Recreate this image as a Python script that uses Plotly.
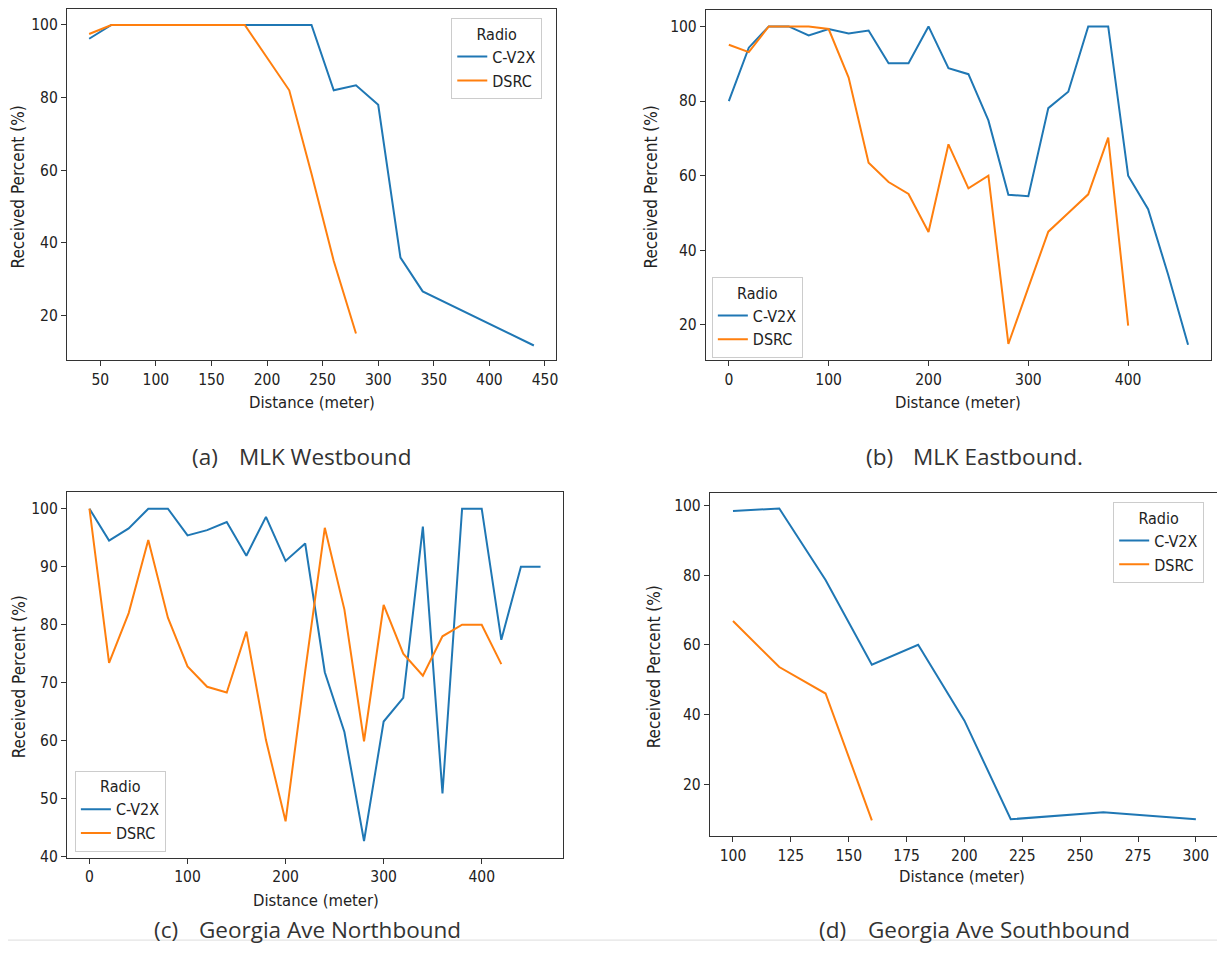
import plotly.graph_objects as go

# ---------------- data ----------------
# (a) MLK Westbound
a_cv2x_x = [40, 60, 80, 100, 120, 140, 160, 180, 200, 220, 240, 260, 280, 300, 320, 340, 440]
a_cv2x_y = [96.2, 100, 100, 100, 100, 100, 100, 100, 100, 100, 100, 82.0, 83.4, 78.0, 35.9, 26.6, 11.7]
a_dsrc_x = [40, 60, 80, 100, 120, 140, 160, 180, 220, 240, 260, 280]
a_dsrc_y = [97.5, 100, 100, 100, 100, 100, 100, 100, 82.0, 59.0, 35.0, 15.0]

# (b) MLK Eastbound
b_cv2x_x = [0, 20, 40, 60, 80, 100, 120, 140, 160, 180, 200, 220, 240, 260, 280, 300,
            320, 340, 360, 380, 400, 420, 440, 460]
b_cv2x_y = [80.0, 94.3, 100, 100, 97.6, 99.3, 98.1, 98.9, 90.1, 90.1, 100, 88.8, 87.2, 74.8,
            54.9, 54.5, 78.1, 82.5, 100, 100, 60.0, 51.0, 33.5, 14.7]
b_dsrc_x = [0, 20, 40, 60, 80, 100, 120, 140, 160, 180, 200, 220, 240, 260, 280, 300,
            320, 340, 360, 380, 400]
b_dsrc_y = [95.1, 93.1, 100, 100, 100, 99.3, 86.3, 63.5, 58.3, 55.1, 44.9, 68.4, 56.6, 60.0,
            14.9, 30.0, 45.0, 50.0, 55.0, 70.2, 19.8]

# (c) Georgia Ave Northbound
c_cv2x_x = [0, 20, 40, 60, 80, 100, 120, 140, 160, 180, 200, 220, 240, 260, 280, 300,
            320, 340, 360, 380, 400, 420, 440, 460]
c_cv2x_y = [100, 94.5, 96.6, 100, 100, 95.4, 96.3, 97.7, 91.9, 98.6, 91.0, 94.0, 71.8, 61.5,
            42.7, 63.3, 67.4, 96.9, 50.9, 100, 100, 77.4, 90.0, 90.0]
c_dsrc_x = [0, 20, 40, 60, 80, 100, 120, 140, 160, 180, 200, 220, 240, 260, 280, 300,
            320, 340, 360, 380, 400, 420]
c_dsrc_y = [100, 73.4, 82.0, 94.6, 81.2, 72.8, 69.3, 68.3, 78.8, 60.1, 46.1, 72.0, 96.7, 82.6,
            59.9, 83.4, 75.0, 71.2, 78.0, 80.0, 80.0, 73.2]

# (d) Georgia Ave Southbound
d_cv2x_x = [100, 120, 140, 160, 180, 200, 220, 260, 300]
d_cv2x_y = [98.4, 99.1, 78.6, 54.3, 60.0, 38.2, 9.9, 11.9, 9.9]
d_dsrc_x = [100, 120, 140, 160]
d_dsrc_y = [66.8, 53.6, 46.0, 9.6]

series_names = ["C-V2X", "DSRC"]
legend_title = "Radio"
x_title = "Distance (meter)"
y_title = "Received Percent (%)"
caption_labels = ["(a)", "(b)", "(c)", "(d)"]
caption_names = ["MLK Westbound", "MLK Eastbound.", "Georgia Ave Northbound", "Georgia Ave Southbound"]

a_xticks = [50, 100, 150, 200, 250, 300, 350, 400, 450]
a_yticks = [20, 40, 60, 80, 100]
b_xticks = [0, 100, 200, 300, 400]
b_yticks = [20, 40, 60, 80, 100]
c_xticks = [0, 100, 200, 300, 400]
c_yticks = [40, 50, 60, 70, 80, 90, 100]
d_xticks = [100, 125, 150, 175, 200, 225, 250, 275, 300]
d_yticks = [20, 40, 60, 80, 100]

# ---------------- layout helpers ----------------
W, H = 1225, 953
OFF = 8  # page body margin
BLUE, ORANGE = "#1f77b4", "#ff7f0e"
TICKFONT = "DejaVu Sans Condensed, DejaVu Sans, sans-serif"
CAPFONT = "Open Sans, Noto Sans, sans-serif"


def px_x(p):
    return (p - OFF) / W


def px_y(p):
    return 1 - (p - OFF) / H


panels = [
    dict(box=(67, 557, 9, 363), xr=[20, 460], yr=[7.7, 104.4], xt=a_xticks, yt=a_yticks,
         data=(a_cv2x_x, a_cv2x_y, a_dsrc_x, a_dsrc_y), leg=(452, 18),
         xtitle=(312, 406), ytitle=(19, 188), cap=(190, 237, 460)),
    dict(box=(707, 1213, 10, 363), xr=[-23, 483], yr=[10.6, 104.4], xt=b_xticks, yt=b_yticks,
         data=(b_cv2x_x, b_cv2x_y, b_dsrc_x, b_dsrc_y), leg=(713, 279),
         xtitle=(960, 406), ytitle=(653, 188), cap=(865, 912, 460)),
    dict(box=(67, 564, 496, 865), xr=[-23, 483], yr=[39.8, 102.9], xt=c_xticks, yt=c_yticks,
         data=(c_cv2x_x, c_cv2x_y, c_dsrc_x, c_dsrc_y), leg=(75, 777),
         xtitle=(317, 908), ytitle=(19, 682), cap=(152, 197, 937)),
    dict(box=(711, 1221, 497, 843), xr=[90, 310], yr=[5.1, 103.6], xt=d_xticks, yt=d_yticks,
         data=(d_cv2x_x, d_cv2x_y, d_dsrc_x, d_dsrc_y), leg=(1115, 506),
         xtitle=(964, 884), ytitle=(655, 672), cap=(818, 867, 937)),
]

fig = go.Figure()
layout = dict(
    width=W, height=H, autosize=False,
    margin=dict(l=0, r=0, t=0, b=0),
    paper_bgcolor="white", plot_bgcolor="white",
    font=dict(family=TICKFONT, size=15, color="#222"),
    annotations=[], shapes=[],
)

for i, p in enumerate(panels):
    n = "" if i == 0 else str(i + 1)
    xa, ya = "x" + n, "y" + n
    legname = "legend" + n
    l, r, t, b = p["box"]
    cx, cy, dx, dy = p["data"]
    fig.add_trace(go.Scatter(x=cx, y=cy, mode="lines", name=series_names[0],
                             line=dict(color=BLUE, width=2), xaxis=xa, yaxis=ya,
                             legend=legname))
    fig.add_trace(go.Scatter(x=dx, y=dy, mode="lines", name=series_names[1],
                             line=dict(color=ORANGE, width=2), xaxis=xa, yaxis=ya,
                             legend=legname))
    axcommon = dict(showgrid=False, zeroline=False, showline=True, mirror=True,
                    linecolor="#333", linewidth=1, ticks="outside", ticklen=5,
                    tickwidth=1, tickcolor="#333",
                    tickfont=dict(family=TICKFONT, size=15.5, color="#222"))
    layout["xaxis" + n] = dict(domain=[px_x(l), px_x(r)], range=p["xr"], tickmode="array",
                               tickvals=p["xt"], anchor=ya, **axcommon)
    layout["yaxis" + n] = dict(domain=[px_y(b), px_y(t)], range=p["yr"], tickmode="array",
                               tickvals=p["yt"], anchor=xa, **axcommon)
    lx, ly = p["leg"]
    layout[legname] = dict(
        x=px_x(lx), y=px_y(ly), xanchor="left", yanchor="top",
        bgcolor="white", bordercolor="#cccccc", borderwidth=1,
        font=dict(family=TICKFONT, size=16, color="#222"),
        title=dict(text=legend_title, side="top center",
                   font=dict(family=TICKFONT, size=16, color="#222")),
        itemwidth=30, tracegroupgap=0,
    )
    tx, ty = p["xtitle"]
    layout["annotations"].append(dict(
        text=x_title, x=px_x(tx), y=px_y(ty), xref="paper", yref="paper",
        xanchor="center", yanchor="middle", showarrow=False,
        font=dict(family=TICKFONT, size=16.5, color="#222")))
    yx, yy = p["ytitle"]
    layout["annotations"].append(dict(
        text=y_title, x=px_x(yx), y=px_y(yy), xref="paper", yref="paper",
        xanchor="center", yanchor="middle", showarrow=False, textangle=-90,
        font=dict(family=TICKFONT, size=17, color="#222")))
    c1, c2, cyy = p["cap"]
    layout["annotations"].append(dict(
        text=caption_labels[i], x=px_x(c1), y=px_y(cyy), xref="paper", yref="paper",
        xanchor="left", yanchor="middle", showarrow=False,
        font=dict(family=CAPFONT, size=22.5, color="#333")))
    layout["annotations"].append(dict(
        text=caption_names[i], x=px_x(c2), y=px_y(cyy), xref="paper", yref="paper",
        xanchor="left", yanchor="middle", showarrow=False,
        font=dict(family=CAPFONT, size=22.5, color="#333")))

layout["shapes"].append(dict(type="line", xref="paper", yref="paper", x0=-0.01, x1=1,
                             y0=px_y(948), y1=px_y(948),
                             line=dict(color="#dddddd", width=1)))

fig.update_layout(**layout)
fig.write_html("out.html")
